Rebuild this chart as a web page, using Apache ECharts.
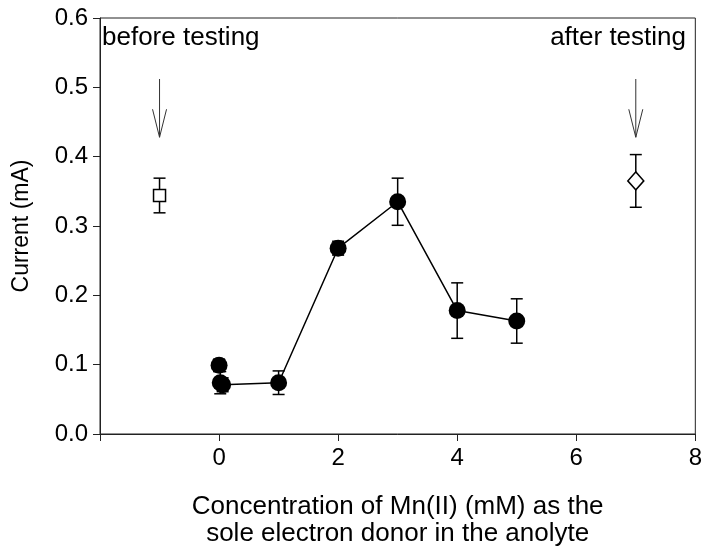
<!DOCTYPE html>
<html lang="en">
<head>
    <meta charset="UTF-8">
    <title>Current vs Mn(II)</title>
    <script src="https://cdn.jsdelivr.net/npm/echarts@6/dist/echarts.min.js"></script>
    <style>
        html, body { margin: 0; padding: 0; background: #fff; }
    </style>
</head>
<body>
    <div id="chart" style="width:705px;height:554px;"></div>
<script>
    // Mn(II) series (x = mM, y = mA, err = +/-)
    var mnX   = [0,     0.02,  0.06,  1,     2,     3,     4,     5];
    var mnY   = [0.099, 0.074, 0.071, 0.074, 0.268, 0.335, 0.178, 0.163];
    var mnErr = [0.009, 0.016, 0.010, 0.017, 0.010, 0.034, 0.040, 0.032];
    // points joined by the line (skip the upper x=0 one)
    var lineIdx = [2, 3, 4, 5, 6, 7];

    // reference measurements
    var beforePt = [-1, 0.344, 0.025];
    var afterPt  = [7, 0.365, 0.038];

    // arrows: x, tail y, tip y
    var arrowX    = [-1, 7];
    var arrowTail = [0.512, 0.512];
    var arrowTip  = [0.428, 0.428];

    var xTicks = [-2, 0, 2, 4, 6, 8];
    var yTicks = [0, 0.1, 0.2, 0.3, 0.4, 0.5, 0.6];

    var FONT = 'Liberation Sans, Arial, sans-serif';

    var scatterData = mnX.map(function (x, i) { return [x, mnY[i]]; });
    var lineData = lineIdx.map(function (i) { return [mnX[i], mnY[i]]; });
    var errData = mnX.map(function (x, i) { return [x, mnY[i] - mnErr[i], mnY[i] + mnErr[i]]; });
    errData.push([beforePt[0], beforePt[1] - beforePt[2], beforePt[1] + beforePt[2]]);
    errData.push([afterPt[0], afterPt[1] - afterPt[2], afterPt[1] + afterPt[2]]);
    var arrowData = arrowX.map(function (x, i) { return [x, arrowTail[i], arrowTip[i]]; });

    function renderErr(params, api) {
        var lo = api.coord([api.value(0), api.value(1)]);
        var hi = api.coord([api.value(0), api.value(2)]);
        var w = 6;
        var st = { stroke: '#000', lineWidth: 1.5, fill: null };
        return {
            type: 'group',
            children: [
                { type: 'line', shape: { x1: lo[0], y1: lo[1], x2: hi[0], y2: hi[1] }, style: st },
                { type: 'line', shape: { x1: lo[0] - w, y1: lo[1], x2: lo[0] + w, y2: lo[1] }, style: st },
                { type: 'line', shape: { x1: hi[0] - w, y1: hi[1], x2: hi[0] + w, y2: hi[1] }, style: st }
            ]
        };
    }

    function renderArrow(params, api) {
        var a = api.coord([api.value(0), api.value(1)]);
        var b = api.coord([api.value(0), api.value(2)]);
        var st = { stroke: '#333', lineWidth: 1, fill: null };
        return {
            type: 'group',
            children: [
                { type: 'line', shape: { x1: a[0], y1: a[1], x2: b[0], y2: b[1] }, style: st },
                { type: 'polyline', shape: { points: [[b[0] - 7, b[1] - 28], [b[0], b[1]], [b[0] + 7, b[1] - 28]] }, style: st }
            ]
        };
    }

    var chart = echarts.init(document.getElementById('chart'));
    chart.setOption({
        animation: false,
        backgroundColor: '#fff',
        textStyle: { fontFamily: FONT },
        grid: {
            left: 100, right: 8, top: 18, bottom: 120,
            show: true, borderColor: '#222', borderWidth: 1
        },
        xAxis: {
            type: 'value',
            min: xTicks[0], max: xTicks[xTicks.length - 1], interval: 2,
            splitLine: { show: false },
            axisLine: { onZero: false, lineStyle: { color: '#222', width: 1 } },
            axisTick: { inside: false, length: 7, lineStyle: { color: '#222' } },
            axisLabel: {
                color: '#000', fontSize: 24, fontFamily: FONT, margin: 12,
                formatter: function (v) { return v === xTicks[0] ? '' : String(v); }
            },
            name: 'Concentration of Mn(II) (mM) as the\nsole electron donor in the anolyte',
            nameLocation: 'middle', nameGap: 59,
            nameTextStyle: { color: '#000', fontSize: 26, fontFamily: FONT, lineHeight: 27 }
        },
        yAxis: {
            type: 'value',
            min: yTicks[0], max: yTicks[yTicks.length - 1], interval: 0.1,
            splitLine: { show: false },
            axisLine: { onZero: false, lineStyle: { color: '#222', width: 1 } },
            axisTick: { inside: false, length: 7, lineStyle: { color: '#222' } },
            axisLabel: {
                color: '#000', fontSize: 24, fontFamily: FONT, margin: 12,
                formatter: function (v) { return v.toFixed(1); }
            },
            name: 'Current (mA)',
            nameLocation: 'middle', nameGap: 67,
            nameTextStyle: { color: '#000', fontSize: 23, fontFamily: FONT }
        },
        graphic: [
            { type: 'text', left: 102, top: 25, style: { text: 'before testing', font: '26px ' + FONT, fill: '#000' } },
            { type: 'text', right: 19, top: 25, style: { text: 'after testing', font: '26px ' + FONT, fill: '#000' } }
        ],
        series: [
            {
                type: 'custom', renderItem: renderArrow, data: arrowData, silent: true, z: 1
            },
            {
                type: 'custom', renderItem: renderErr, data: errData, silent: true, z: 2
            },
            {
                type: 'line', data: lineData, showSymbol: false, silent: true, z: 3,
                lineStyle: { color: '#000', width: 1.5 }
            },
            {
                type: 'scatter', data: scatterData, symbol: 'circle', symbolSize: 17, z: 4,
                itemStyle: { color: '#000', opacity: 1 }
            },
            {
                type: 'scatter', data: [[beforePt[0], beforePt[1]]], symbol: 'rect', symbolSize: 12, z: 4,
                itemStyle: { color: '#fff', borderColor: '#000', borderWidth: 1.5, opacity: 1 }
            },
            {
                type: 'scatter', data: [[afterPt[0], afterPt[1]]], symbol: 'diamond', symbolSize: [16, 18], z: 4,
                itemStyle: { color: '#fff', borderColor: '#000', borderWidth: 1.5, opacity: 1 }
            }
        ]
    });
</script>
</body>
</html>
